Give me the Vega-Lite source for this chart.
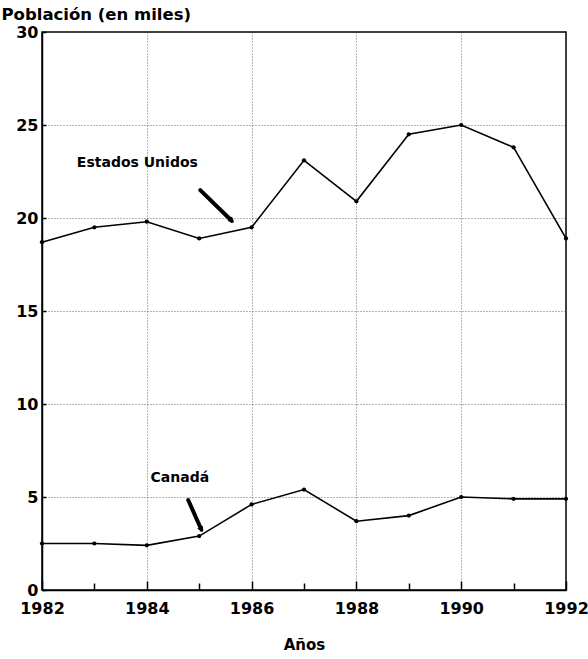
{
  "$schema": "https://vega.github.io/schema/vega-lite/v6.json",
  "width": 524,
  "height": 558,
  "autosize": "none",
  "padding": {"left": 42, "top": 32, "right": 22, "bottom": 69},
  "background": "white",
  "config": {
    "font": "DejaVu Sans",
    "view": {"stroke": "black", "strokeWidth": 1.5},
    "axis": {
      "labelFont": "DejaVu Sans", "labelFontWeight": "bold", "labelFontSize": 16, "labelColor": "black",
      "titleFont": "DejaVu Sans", "titleFontWeight": "bold", "titleFontSize": 15, "titleColor": "black",
      "domainColor": "black", "domainWidth": 1.5, "tickColor": "black", "tickWidth": 1.5,
      "gridColor": "#444", "gridDash": [1, 2], "gridWidth": 0.8
    }
  },
  "datasets": {
    "series": [
      {"pais": "Estados Unidos", "anio": 1982, "valor": 18.7},
      {"pais": "Estados Unidos", "anio": 1983, "valor": 19.5},
      {"pais": "Estados Unidos", "anio": 1984, "valor": 19.8},
      {"pais": "Estados Unidos", "anio": 1985, "valor": 18.9},
      {"pais": "Estados Unidos", "anio": 1986, "valor": 19.5},
      {"pais": "Estados Unidos", "anio": 1987, "valor": 23.1},
      {"pais": "Estados Unidos", "anio": 1988, "valor": 20.9},
      {"pais": "Estados Unidos", "anio": 1989, "valor": 24.5},
      {"pais": "Estados Unidos", "anio": 1990, "valor": 25.0},
      {"pais": "Estados Unidos", "anio": 1991, "valor": 23.8},
      {"pais": "Estados Unidos", "anio": 1992, "valor": 18.9},
      {"pais": "Canadá", "anio": 1982, "valor": 2.5},
      {"pais": "Canadá", "anio": 1983, "valor": 2.5},
      {"pais": "Canadá", "anio": 1984, "valor": 2.4},
      {"pais": "Canadá", "anio": 1985, "valor": 2.9},
      {"pais": "Canadá", "anio": 1986, "valor": 4.6},
      {"pais": "Canadá", "anio": 1987, "valor": 5.4},
      {"pais": "Canadá", "anio": 1988, "valor": 3.7},
      {"pais": "Canadá", "anio": 1989, "valor": 4.0},
      {"pais": "Canadá", "anio": 1990, "valor": 5.0},
      {"pais": "Canadá", "anio": 1991, "valor": 4.9},
      {"pais": "Canadá", "anio": 1992, "valor": 4.9}
    ],
    "notes": [
      {"label": "Estados Unidos", "tx": 1983.82, "ty": 22.96, "x1": 1985.02, "y1": 21.5, "x2": 1985.62, "y2": 19.85, "ang": 135},
      {"label": "Canadá", "tx": 1984.63, "ty": 6.0, "x1": 1984.79, "y1": 4.84, "x2": 1985.04, "y2": 3.25, "ang": 155}
    ]
  },
  "layer": [
    {
      "data": {"name": "series"},
      "mark": {"type": "line", "color": "black", "strokeWidth": 1.6},
      "encoding": {
        "x": {
          "field": "anio", "type": "quantitative",
          "scale": {"domain": [1982, 1992], "nice": false, "zero": false},
          "axis": {
            "title": "Años", "titlePadding": 21,
            "values": [1982, 1983, 1984, 1985, 1986, 1987, 1988, 1989, 1990, 1991, 1992],
            "format": "d",
            "labelExpr": "datum.value % 2 == 0 ? datum.label : ''",
            "labelPadding": 19,
            "tickSize": {"condition": {"test": "datum.value % 2 == 0", "value": -9}, "value": -7},
            "labelFlush": false,
            "grid": true,
            "gridOpacity": {"condition": {"test": "datum.value % 2 == 0 && datum.value > 1982 && datum.value < 1992", "value": 1}, "value": 0}
          }
        },
        "y": {
          "field": "valor", "type": "quantitative",
          "scale": {"domain": [0, 30], "nice": false},
          "axis": {
            "title": "Población (en miles)", "titleAngle": 0, "titleAlign": "left", "titleBaseline": "bottom",
            "titleX": -41, "titleY": -10, "titleFontSize": 16.5,
            "values": [0, 5, 10, 15, 20, 25, 30],
            "tickSize": -4, "labelPadding": 8,
            "grid": true,
            "gridOpacity": {"condition": {"test": "datum.value > 0 && datum.value < 30", "value": 1}, "value": 0}
          }
        },
        "detail": {"field": "pais"}
      }
    },
    {
      "data": {"name": "series"},
      "mark": {"type": "point", "filled": true, "color": "black", "size": 18, "opacity": 1},
      "encoding": {
        "x": {"field": "anio", "type": "quantitative"},
        "y": {"field": "valor", "type": "quantitative"}
      }
    },
    {
      "data": {"name": "notes"},
      "mark": {"type": "rule", "color": "black", "strokeWidth": 4, "strokeCap": "round"},
      "encoding": {
        "x": {"field": "x1", "type": "quantitative"},
        "y": {"field": "y1", "type": "quantitative"},
        "x2": {"field": "x2"},
        "y2": {"field": "y2"}
      }
    },
    {
      "data": {"name": "notes"},
      "mark": {"type": "point", "shape": "triangle-up", "filled": true, "color": "black", "size": 40, "opacity": 1},
      "encoding": {
        "x": {"field": "x2", "type": "quantitative"},
        "y": {"field": "y2", "type": "quantitative"},
        "angle": {"field": "ang", "type": "quantitative", "scale": null}
      }
    },
    {
      "data": {"name": "notes"},
      "mark": {"type": "text", "font": "DejaVu Sans", "fontWeight": "bold", "fontSize": 14, "color": "black"},
      "encoding": {
        "x": {"field": "tx", "type": "quantitative"},
        "y": {"field": "ty", "type": "quantitative"},
        "text": {"field": "label"}
      }
    }
  ]
}
